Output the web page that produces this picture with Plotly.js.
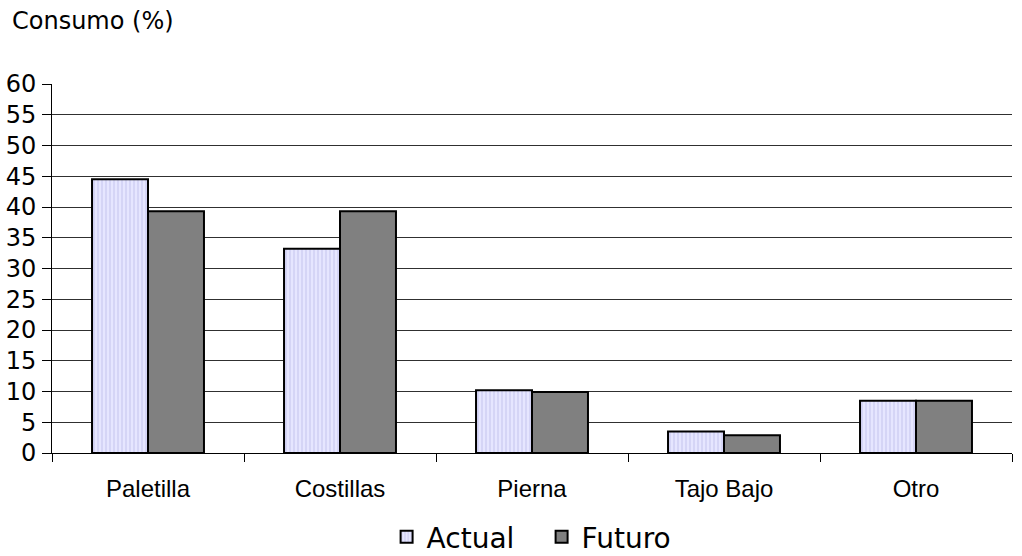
<!DOCTYPE html>
<html>
<head>
<meta charset="utf-8">
<script src="https://cdn.plot.ly/plotly-3.0.1.min.js"></script>
<style>html,body{margin:0;padding:0;background:#fff;}#chart{width:1022px;height:556px;}</style>
</head>
<body>
<div id="chart"></div>
<script>
const categories = ["Paletilla", "Costillas", "Pierna", "Tajo Bajo", "Otro"];
const actual = [44.5, 33.2, 10.2, 3.5, 8.5];
const futuro = [39.3, 39.3, 9.9, 2.9, 8.5];
const yTicks = [0, 5, 10, 15, 20, 25, 30, 35, 40, 45, 50, 55, 60];
const yTitle = "Consumo (%)";

const traces = [
  {
    type: "bar", name: "Actual", x: categories, y: actual,
    marker: {
      color: "#e4e4ff",
      line: {color: "#000", width: 2},
      pattern: {shape: "|", fgcolor: "#c4c4ee", bgcolor: "#e6e6ff", size: 4, solidity: 0.25}
    }
  },
  {
    type: "bar", name: "Futuro", x: categories, y: futuro,
    marker: {color: "#808080", line: {color: "#000", width: 2}}
  }
];

const layout = {
  width: 1022, height: 556,
  margin: {l: 52, r: 10, t: 84, b: 103, autoexpand: false},
  paper_bgcolor: "#fff", plot_bgcolor: "#fff",
  barmode: "group", bargap: 0.417, bargroupgap: 0,
  font: {family: "DejaVu Sans", color: "#000"},
  showlegend: true,
  legend: {
    orientation: "h", x: 0.51, xanchor: "center", xref: "paper",
    yref: "container", y: 0.034, yanchor: "middle",
    font: {family: "DejaVu Sans", size: 28, color: "#000"},
    itemwidth: 30, entrywidth: 110, traceorder: "normal"
  },
  xaxis: {
    type: "category", tickson: "boundaries", ticks: "outside", ticklen: 8, tickcolor: "#000",
    showline: true, linecolor: "#000", linewidth: 1, showgrid: false,
    tickfont: {family: "Liberation Sans, Arial", size: 24, color: "#000"},
    ticklabelstandoff: 14, fixedrange: true
  },
  yaxis: {
    range: [0, 60], tickvals: yTicks, ticks: "outside", ticklen: 9, tickcolor: "#000",
    showline: true, linecolor: "#000", linewidth: 1,
    showgrid: true, gridcolor: "#303030", gridwidth: 1, zeroline: false,
    tickfont: {family: "DejaVu Sans", size: 24, color: "#000"},
    ticklabelstandoff: 1, fixedrange: true
  },
  annotations: [{
    text: yTitle, xref: "paper", yref: "paper", x: -0.0437, y: 1.17,
    xanchor: "left", yanchor: "middle", showarrow: false,
    font: {family: "DejaVu Sans", size: 24, color: "#000"}
  }]
};

Plotly.newPlot("chart", traces, layout, {displayModeBar: false, staticPlot: true});
</script>
</body>
</html>
